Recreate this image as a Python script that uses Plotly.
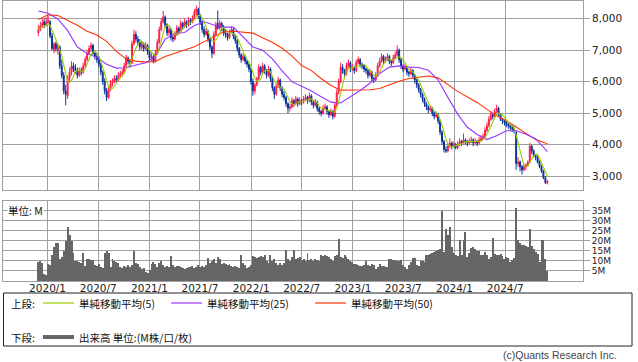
import pandas as pd
import plotly.graph_objects as go

# ---------------- data (weekly) ----------------
start_date = "2019-11-29"

opens = [
    7550, 7650, 7750, 7900, 7800, 7900, 7900, 7450, 7000, 7200,
    7000, 7100, 6500, 6200, 5700, 5550, 6100, 6300, 6500, 6400,
    6350, 6200, 6350, 6300, 6500, 6700, 6900, 7050, 7150, 6900,
    6800, 6700, 6550, 6300, 6000, 5700, 5500, 5750, 5950, 6000,
    6100, 6050, 6200, 6250, 6300, 6500, 6750, 6650, 6600, 7200,
    7500, 7350, 7250, 7100, 7200, 7050, 7150, 6950, 6750, 6800,
    6650, 6900, 7250, 7650, 7900, 8050, 7800, 7550, 7650, 7400,
    7350, 7500, 7700, 7600, 7850, 7750, 7900, 7800, 7950, 7900,
    8000, 8200, 8300, 8100, 7900, 7650, 7500, 7600, 7350, 7100,
    6900, 7500, 7850, 7700, 7850, 7700, 7550, 7500, 7400, 7600,
    7650, 7450, 7300, 7050, 6850, 6700, 6800, 6650, 6550, 6400,
    6000, 5700, 5900, 6100, 6450, 6300, 6500, 6350, 6200, 6400,
    6100, 5800, 5600, 5850, 6050, 5800, 5600, 5500, 5300, 5150,
    5200, 5400, 5300, 5450, 5300, 5400, 5350, 5450, 5500, 5400,
    5550, 5350, 5250, 5350, 5150, 5050, 5000, 5150, 5200, 5050,
    4950, 5050, 4900, 5250, 5650, 6000, 6450, 6350, 6250, 6500,
    6600, 6400, 6450, 6350, 6600, 6700, 6550, 6500, 6400, 6350,
    6200, 6300, 6100, 6050, 6200, 6500, 6650, 6800, 6650, 6700,
    6800, 6650, 6600, 6750, 6850, 7000, 6700, 6500, 6400, 6450,
    6300, 6250, 6350, 6200, 6050, 5900, 5750, 5600, 5450, 5300,
    5200, 5100, 5150, 5000, 4900, 4950, 4750, 4400, 4100, 3850,
    3800, 3950, 4050, 3950, 4000, 3900, 4000, 4100, 4050, 4150,
    4100, 4050, 4100, 4150, 4050, 4100, 4050, 4150, 4200, 4250,
    4450, 4600, 4800, 4950, 4900, 5050, 5150, 4950, 4800, 4750,
    4700, 4650, 4600, 4550, 4500, 4400, 3400, 3450, 3300, 3200,
    3300, 3350, 3450, 3950, 3800, 3650, 3600, 3450, 3300, 3150,
    2950, 2780,
]

highs = [
    7800, 7900, 8000, 8000, 8050, 8100, 7950, 7550, 7250, 7280,
    7200, 7150, 6700, 6300, 5900, 6200, 6450, 6650, 6600, 6550,
    6450, 6450, 6450, 6600, 6800, 7000, 7150, 7250, 7200, 6950,
    6900, 6800, 6600, 6350, 6100, 5800, 5850, 6050, 6100, 6200,
    6200, 6300, 6350, 6400, 6600, 6850, 6800, 6700, 7300, 7650,
    7600, 7450, 7350, 7300, 7250, 7250, 7200, 7000, 6900, 6850,
    7000, 7350, 7750, 8000, 8250, 8100, 7850, 7750, 7700, 7500,
    7600, 7800, 7750, 7950, 7900, 8000, 7950, 8050, 8000, 8100,
    8300, 8420, 8350, 8150, 7950, 7750, 7700, 7650, 7400, 7150,
    7600, 7900, 8260, 7950, 7900, 7800, 7650, 7550, 7650, 7750,
    7700, 7500, 7350, 7100, 6900, 6900, 6850, 6700, 6600, 6450,
    6100, 5950, 6150, 6550, 6500, 6600, 6550, 6400, 6500, 6450,
    6150, 5850, 5950, 6150, 6100, 5850, 5700, 5550, 5350, 5300,
    5500, 5450, 5550, 5500, 5500, 5450, 5550, 5600, 5550, 5650,
    5600, 5400, 5450, 5400, 5200, 5100, 5250, 5300, 5250, 5100,
    5150, 5100, 5350, 5750, 6100, 6600, 6550, 6400, 6600, 6700,
    6650, 6550, 6500, 6700, 6800, 6750, 6600, 6550, 6450, 6400,
    6400, 6350, 6150, 6300, 6600, 6750, 6900, 6850, 6800, 6900,
    6850, 6700, 6850, 6950, 7150, 7050, 6750, 6550, 6550, 6500,
    6350, 6450, 6400, 6250, 6100, 5950, 5800, 5650, 5500, 5350,
    5250, 5250, 5200, 5050, 5050, 5000, 4800, 4450, 4150, 3950,
    4050, 4200, 4100, 4100, 4050, 4100, 4200, 4150, 4350, 4200,
    4150, 4200, 4250, 4200, 4200, 4150, 4250, 4300, 4350, 4550,
    4700, 4900, 5050, 5000, 5150, 5260, 5200, 5000, 4850, 4800,
    4750, 4700, 4650, 4600, 4550, 4450, 3600, 3500, 3350, 3400,
    3400, 3500, 4050, 4000, 3850, 3700, 3650, 3500, 3350, 3200,
    3000, 2880,
]

lows = [
    7450, 7600, 7700, 7700, 7750, 7800, 7380, 7000, 6900, 6950,
    6850, 6400, 6100, 5600, 5250, 5450, 6000, 6200, 6300, 6250,
    6100, 6150, 6200, 6250, 6450, 6650, 6850, 6950, 6850, 6700,
    6600, 6450, 6200, 5900, 5600, 5380, 5450, 5700, 5850, 5950,
    5950, 6000, 6100, 6150, 6250, 6450, 6550, 6450, 6550, 7150,
    7250, 7150, 7000, 7000, 6950, 7000, 6850, 6650, 6650, 6580,
    6600, 6850, 7200, 7600, 7850, 7700, 7450, 7450, 7300, 7250,
    7300, 7450, 7500, 7550, 7650, 7700, 7700, 7750, 7800, 7850,
    7950, 8100, 8000, 7800, 7550, 7400, 7450, 7250, 7000, 6750,
    6850, 7450, 7650, 7650, 7600, 7450, 7400, 7300, 7350, 7550,
    7350, 7200, 6950, 6750, 6600, 6650, 6550, 6450, 6300, 5900,
    5550, 5600, 5850, 6050, 6200, 6250, 6250, 6100, 6150, 6000,
    5700, 5450, 5550, 5800, 5700, 5500, 5400, 5200, 5000, 5050,
    5150, 5200, 5250, 5200, 5250, 5250, 5300, 5400, 5300, 5350,
    5250, 5150, 5200, 5050, 4950, 4900, 4950, 5100, 4950, 4850,
    4900, 4800, 4850, 5200, 5600, 5950, 6250, 6150, 6200, 6450,
    6300, 6350, 6250, 6300, 6550, 6450, 6400, 6300, 6250, 6100,
    6150, 6000, 5950, 6000, 6150, 6450, 6600, 6550, 6600, 6650,
    6550, 6500, 6550, 6700, 6800, 6600, 6400, 6300, 6350, 6200,
    6150, 6200, 6100, 5950, 5800, 5650, 5500, 5350, 5200, 5100,
    5000, 5050, 4900, 4800, 4850, 4650, 4300, 4000, 3750, 3740,
    3750, 3900, 3850, 3900, 3850, 3850, 3950, 3950, 4000, 4000,
    3950, 4000, 4050, 3950, 4000, 3950, 4000, 4100, 4150, 4200,
    4400, 4550, 4750, 4800, 4850, 5000, 4900, 4750, 4650, 4600,
    4550, 4500, 4450, 4400, 4350, 3200, 3300, 3150, 3050, 3150,
    3200, 3300, 3400, 3700, 3600, 3500, 3400, 3250, 3100, 2900,
    2750, 2740,
]

closes = [
    7650, 7750, 7850, 7800, 7900, 7950, 7450, 7050, 7200, 7050,
    7150, 6500, 6200, 5700, 5600, 6100, 6300, 6500, 6400, 6350,
    6200, 6350, 6300, 6500, 6700, 6900, 7050, 7150, 6900, 6800,
    6700, 6550, 6300, 6000, 5700, 5500, 5750, 5950, 6000, 6100,
    6050, 6200, 6250, 6300, 6500, 6750, 6650, 6600, 7200, 7500,
    7350, 7250, 7100, 7200, 7050, 7150, 6950, 6750, 6800, 6650,
    6900, 7250, 7650, 7900, 8050, 7800, 7550, 7650, 7400, 7350,
    7500, 7700, 7600, 7850, 7750, 7900, 7800, 7950, 7900, 8000,
    8200, 8300, 8100, 7900, 7650, 7500, 7600, 7350, 7100, 6900,
    7500, 7800, 7700, 7850, 7700, 7550, 7500, 7400, 7600, 7650,
    7450, 7300, 7050, 6850, 6700, 6800, 6650, 6550, 6400, 6000,
    5700, 5900, 6100, 6450, 6300, 6500, 6350, 6200, 6400, 6100,
    5800, 5600, 5850, 6050, 5800, 5600, 5500, 5300, 5150, 5200,
    5400, 5300, 5450, 5300, 5400, 5350, 5450, 5500, 5400, 5550,
    5350, 5250, 5350, 5150, 5050, 5000, 5150, 5200, 5050, 4950,
    5050, 4900, 5250, 5650, 6000, 6450, 6350, 6250, 6500, 6600,
    6400, 6450, 6350, 6600, 6700, 6550, 6500, 6400, 6350, 6200,
    6300, 6100, 6050, 6200, 6500, 6650, 6800, 6650, 6700, 6800,
    6650, 6600, 6750, 6850, 7000, 6700, 6500, 6400, 6450, 6300,
    6250, 6350, 6200, 6050, 5900, 5750, 5600, 5450, 5300, 5200,
    5100, 5150, 5000, 4900, 4950, 4750, 4400, 4100, 3850, 3800,
    3950, 4050, 3950, 4000, 3900, 4000, 4100, 4050, 4150, 4100,
    4050, 4100, 4150, 4050, 4100, 4050, 4150, 4200, 4250, 4450,
    4600, 4800, 4950, 4900, 5050, 5150, 4950, 4800, 4750, 4700,
    4650, 4600, 4550, 4500, 4450, 3400, 3450, 3300, 3200, 3300,
    3350, 3450, 3950, 3800, 3650, 3600, 3450, 3300, 3150, 2950,
    2800, 2830,
]

volumes_m = [
    9.5, 10, 9, 3.5, 3, 8.5, 8, 13, 17, 19,
    19, 11, 12, 15, 20, 27, 23, 20, 14, 10,
    10, 9.5, 9, 14, 7.5, 11, 11, 10.5, 10.5, 8,
    7.5, 8.5, 7, 6.5, 14, 15, 14, 7, 11, 10,
    9.5, 9, 7, 6.5, 7.5, 7, 8, 7, 8, 15,
    9, 8.5, 7, 6, 6.5, 4.5, 4, 5.5, 8.5, 9.5,
    8.5, 7, 9, 10, 8, 7, 7.5, 7, 12.5, 8,
    7, 7.5, 7.5, 7, 6.5, 6, 6.5, 7, 7, 7.5,
    6.5, 7, 8, 7, 7.5, 7, 8, 11.5, 9, 10,
    11, 9, 12, 11, 8.5, 9, 8.5, 8, 8.5, 7.5,
    7, 7.5, 7, 6.5, 13, 9, 8, 6.5, 7, 8,
    12.5, 12, 11.5, 12, 12.5, 12, 13, 10, 9, 13,
    10, 11, 9, 8, 9, 8, 9, 15.5, 11, 10,
    12, 15.5, 11, 11.5, 12, 10.5, 11, 10, 14, 10.5,
    11, 10, 11, 10.5, 10, 13, 12.5, 12.8, 12.5, 12,
    11, 10, 12.5, 13, 21, 12, 11.5, 12.8, 12, 11,
    10, 9.5, 8.7, 8.5, 8, 7.5, 7.3, 8, 10, 8,
    7.5, 8.7, 8, 6, 7, 8.3, 7.5, 7.5, 7, 7,
    11, 11, 10.5, 10.3, 10, 10, 10.3, 8, 7, 6,
    8, 9.5, 11.7, 11.5, 8, 7.5, 10, 10, 9.5, 13.2,
    13, 13.7, 14, 14.5, 15, 15.5, 16, 35, 14.5, 26,
    22.8, 27, 17, 14, 12.8, 12.5, 20.3, 13, 20.3, 24.5,
    12, 14, 16.5, 17, 16, 15, 15, 13, 12.8, 14.5,
    13, 11, 12, 21.5, 13.5, 13, 12.8, 13.5, 12.5, 11,
    12, 11.5, 9.5, 10.5, 11.5, 36.5, 20.3, 18.7, 18, 17.8,
    17.5, 17, 25.8, 17.5, 16, 14.5, 13.5, 9.5, 20.3, 20.3,
    11, 4.8,
]

# moving averages read every 5th week (plus the last week)
ma25_values = [
    8240, 8170, 7990, 7620, 7100, 6890, 6770, 6550, 6430, 6440,
    6530, 6600, 6800, 7350, 7530, 7560, 7780, 7900, 7800, 7730,
    7730, 7420, 7100, 7000, 6720, 6340, 6000, 5850, 5700, 5520,
    5350, 5320, 5510, 5720, 5950, 6260, 6460, 6500, 6460, 6450,
    6360, 6050, 5500, 4970, 4550, 4320, 4160, 4280, 4440, 4440,
    4330, 4190, 3850, 3780,
]
ma50_values = [
    7970, 8120, 8100, 7950, 7790, 7600, 7480, 7280, 6960, 6720,
    6650, 6620, 6640, 6800, 6900, 7000, 7110, 7270, 7430, 7580,
    7600, 7570, 7540, 7390, 7250, 7060, 6820, 6510, 6350, 6100,
    5880, 5730, 5730, 5730, 5740, 5780, 5900, 6010, 6100, 6150,
    6180, 6120, 5900, 5690, 5510, 5340, 5120, 4920, 4760, 4560,
    4340, 4160, 4050, 4030,
]

x_tick_dates = ["2020-01-01", "2020-07-01", "2021-01-01", "2021-07-01", "2022-01-01",
                "2022-07-01", "2023-01-01", "2023-07-01", "2024-01-01", "2024-07-01"]
x_tick_labels = ["2020/1", "2020/7", "2021/1", "2021/7", "2022/1",
                 "2022/7", "2023/1", "2023/7", "2024/1", "2024/7"]
price_ticks = [3000, 4000, 5000, 6000, 7000, 8000]
vol_ticks = [5, 10, 15, 20, 25, 30, 35]
vol_tick_labels = ["5M", "10M", "15M", "20M", "25M", "30M", "35M"]

# ---------------- derived ----------------
dates = pd.date_range(start_date, periods=len(closes), freq="7D")
ma5 = pd.Series(closes).rolling(5, min_periods=1).mean()
ma_dates = list(dates[::5]) + [dates[-1]]

UP = "#FF1A4B"
DOWN = "#0A3399"
GRID = "#A0A0A0"
C_MA5 = "#99CC00"
C_MA25 = "#9933FF"
C_MA50 = "#FF3300"
VOL = "#666666"

W, H = 638, 362
ML, MR, MT, MB = 3, 55, 1, 81
PW = W - ML - MR
PH = H - MT - MB


def xp(px):
    return (px - ML) / PW


def yp(py):
    return (H - MB - py) / PH


fig = go.Figure()
fig.add_trace(go.Candlestick(
    x=dates, open=opens, high=highs, low=lows, close=closes,
    increasing=dict(line=dict(color=UP, width=1), fillcolor=UP),
    decreasing=dict(line=dict(color=DOWN, width=1), fillcolor=DOWN),
    whiskerwidth=0, xaxis="x", yaxis="y", showlegend=False, hoverinfo="skip",
))
fig.add_trace(go.Scatter(x=ma_dates, y=ma50_values, mode="lines",
                         line=dict(color=C_MA50, width=1.1), xaxis="x", yaxis="y",
                         showlegend=False, hoverinfo="skip"))
fig.add_trace(go.Scatter(x=ma_dates, y=ma25_values, mode="lines",
                         line=dict(color=C_MA25, width=1.1), xaxis="x", yaxis="y",
                         showlegend=False, hoverinfo="skip"))
fig.add_trace(go.Scatter(x=dates, y=ma5, mode="lines",
                         line=dict(color=C_MA5, width=1.1), xaxis="x", yaxis="y",
                         showlegend=False, hoverinfo="skip"))
fig.add_trace(go.Bar(x=dates, y=volumes_m, marker=dict(color=VOL, line=dict(width=0)),
                     xaxis="x2", yaxis="y2", showlegend=False, hoverinfo="skip"))

x_range = ["2019-07-25", "2025-04-06"]
tick_font = dict(family="DejaVu Sans", size=10.5, color="#222222")
vol_tick_font = dict(family="DejaVu Sans", size=9, color="#222222")

common_x = dict(type="date", range=x_range, tickvals=x_tick_dates, ticktext=x_tick_labels,
                showgrid=True, gridcolor=GRID, gridwidth=1, showline=True, linecolor=GRID,
                linewidth=1, mirror=True, ticks="", zeroline=False, fixedrange=True)

fig.update_layout(
    width=W, height=H,
    margin=dict(l=ML, r=MR, t=MT, b=MB, pad=0),
    paper_bgcolor="white", plot_bgcolor="white",
    bargap=0.0,
    showlegend=False,
    xaxis=dict(**common_x, domain=[0, 1], anchor="y", showticklabels=False,
               rangeslider=dict(visible=False)),
    xaxis2=dict(**common_x, domain=[0, 1], anchor="y2", matches="x", showticklabels=True,
                tickfont=tick_font, ticklabelstandoff=-3),
    yaxis=dict(domain=[yp(190.3), 1], side="right", range=[2550, 8560],
               tickvals=price_ticks, tickformat=",", showgrid=True, gridcolor=GRID,
               ticks="outside", ticklen=6, tickcolor=GRID, showline=True, linecolor=GRID,
               mirror=True, zeroline=False, tickfont=tick_font, fixedrange=True),
    yaxis2=dict(domain=[0, yp(200.7)], side="right", range=[0, 40],
                tickvals=vol_ticks, ticktext=vol_tick_labels, showgrid=True, gridcolor=GRID,
                ticks="outside", ticklen=6, tickcolor=GRID, showline=True, linecolor=GRID,
                mirror=True, zeroline=False, tickfont=vol_tick_font, fixedrange=True),
)

jp_font = dict(family="Noto Sans CJK JP", size=10.5, color="#111111")
annotations = [
    dict(text="単位: M", x=xp(7), y=yp(210), xanchor="left", yanchor="middle",
         bgcolor="white", borderpad=0),
    dict(text="上段:", x=xp(9), y=yp(303), xanchor="left", yanchor="middle"),
    dict(text="単純移動平均(5)", x=xp(77), y=yp(303), xanchor="left", yanchor="middle"),
    dict(text="単純移動平均(25)", x=xp(205), y=yp(303), xanchor="left", yanchor="middle"),
    dict(text="単純移動平均(50)", x=xp(349), y=yp(303), xanchor="left", yanchor="middle"),
    dict(text="下段:", x=xp(9), y=yp(337), xanchor="left", yanchor="middle"),
    dict(text="出来高 単位:(M株/口/枚)", x=xp(77), y=yp(337), xanchor="left", yanchor="middle"),
]
for a in annotations:
    a.update(xref="paper", yref="paper", showarrow=False, font=jp_font)
annotations.append(dict(text="(c)Quants Research Inc.", x=xp(619), y=yp(355),
                        xref="paper", yref="paper", xanchor="right", yanchor="middle",
                        showarrow=False,
                        font=dict(family="Liberation Sans", size=10.5, color="#444444")))
fig.update_layout(annotations=annotations)

shapes = [
    dict(type="rect", x0=xp(3.5), x1=xp(632), y0=yp(346), y1=yp(293),
         line=dict(color="#222222", width=1), fillcolor="rgba(0,0,0,0)"),
    dict(type="line", x0=xp(43), x1=xp(74), y0=yp(303), y1=yp(303), line=dict(color=C_MA5, width=1.2)),
    dict(type="line", x0=xp(171), x1=xp(202), y0=yp(303), y1=yp(303), line=dict(color=C_MA25, width=1.2)),
    dict(type="line", x0=xp(315), x1=xp(346), y0=yp(303), y1=yp(303), line=dict(color=C_MA50, width=1.2)),
    dict(type="line", x0=xp(43), x1=xp(74), y0=yp(337), y1=yp(337), line=dict(color=VOL, width=4)),
]
for s in shapes:
    s.update(xref="paper", yref="paper")
fig.update_layout(shapes=shapes)

fig.write_html(
    "out.html",
    config={"displayModeBar": False, "staticPlot": True},
    post_script="document.body.style.margin='0';document.body.style.padding='0';",
)
